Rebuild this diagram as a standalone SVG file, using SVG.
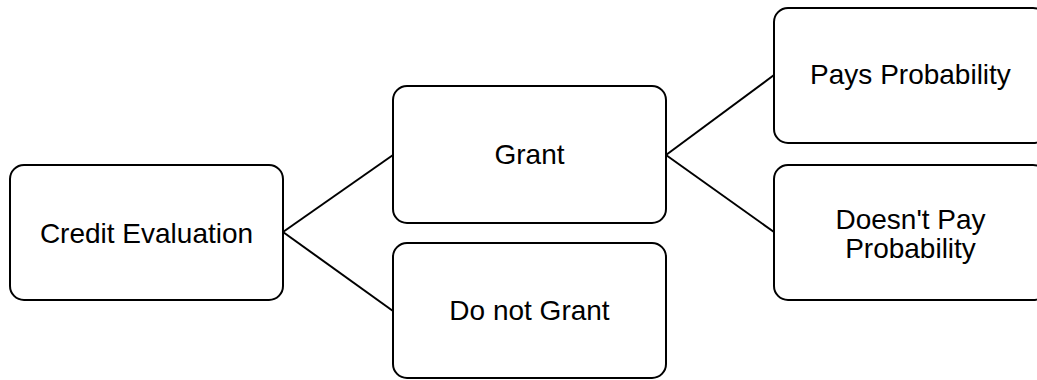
<svg xmlns="http://www.w3.org/2000/svg" width="1037" height="380" viewBox="0 0 1037 380">
  <style>
    .box { fill: #ffffff; stroke: #000000; stroke-width: 2; }
    .lbl { font-family: "Liberation Sans", Arial, sans-serif; font-size: 28px; fill: #000000; text-anchor: middle; }
    .link { stroke: #000000; stroke-width: 2; fill: none; }
  </style>
  <rect width="1037" height="380" fill="#ffffff"/>
  <g id="connectors">
    <line class="link" x1="283" y1="232" x2="393" y2="155"/>
    <line class="link" x1="283" y1="232" x2="393" y2="311"/>
    <line class="link" x1="666" y1="155" x2="774" y2="75"/>
    <line class="link" x1="666" y1="155" x2="774" y2="232"/>
  </g>
  <g id="credit-evaluation">
    <rect class="box" x="10" y="165" width="273" height="135" rx="14"/>
    <text class="lbl" x="146.5" y="243">Credit Evaluation</text>
  </g>
  <g id="grant">
    <rect class="box" x="393" y="86" width="273" height="137" rx="14"/>
    <text class="lbl" x="529.5" y="164">Grant</text>
  </g>
  <g id="do-not-grant">
    <rect class="box" x="393" y="243" width="273" height="135" rx="14"/>
    <text class="lbl" x="529.5" y="320">Do not Grant</text>
  </g>
  <g id="pays-probability">
    <rect class="box" x="774" y="8" width="273" height="135" rx="14"/>
    <text class="lbl" x="910.5" y="84">Pays Probability</text>
  </g>
  <g id="doesnt-pay-probability">
    <rect class="box" x="774" y="165" width="273" height="135" rx="14"/>
    <text class="lbl" x="910.5" y="229">Doesn't Pay</text>
    <text class="lbl" x="910.5" y="258">Probability</text>
  </g>
</svg>
